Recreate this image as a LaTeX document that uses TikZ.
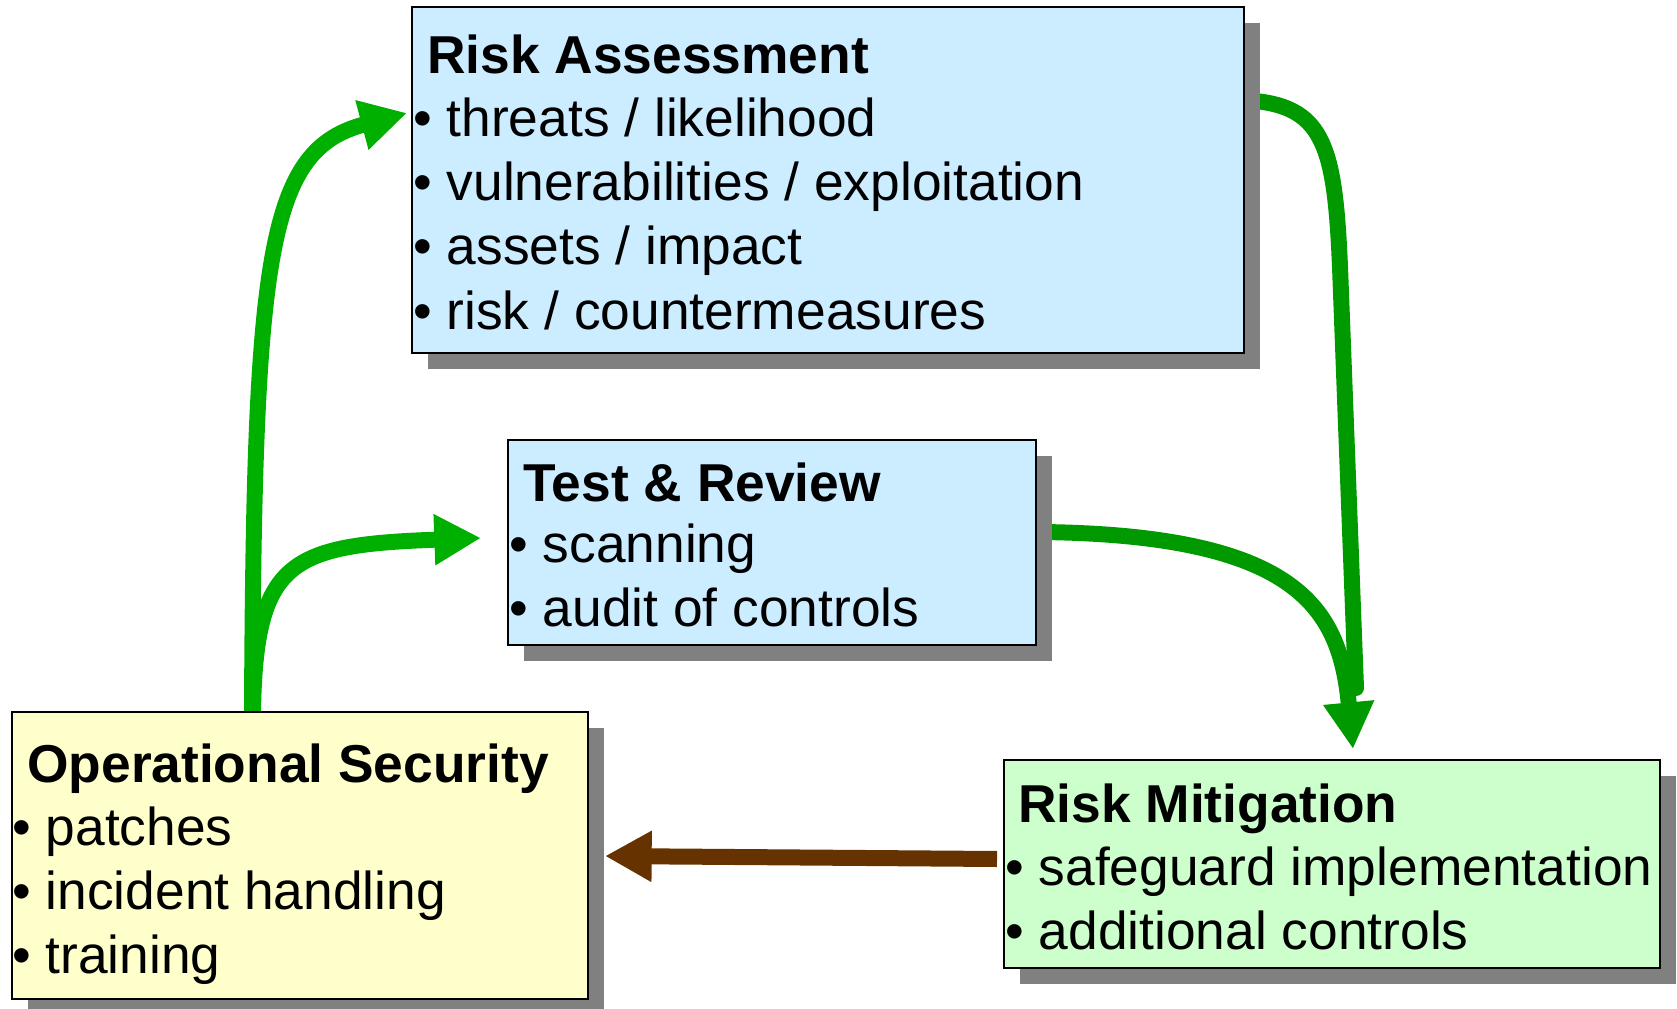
\documentclass[tikz,border=0pt]{standalone}
\usepackage{fontspec}
\setmainfont{Liberation Sans}
\usetikzlibrary{arrows.meta,shadows,calc,backgrounds}
\definecolor{rafill}{HTML}{CCECFF}
\definecolor{osfill}{HTML}{FFFFCC}
\definecolor{rmfill}{HTML}{CCFFCC}
\definecolor{shadowgray}{HTML}{808080}
\definecolor{lightgreen}{HTML}{00B000}
\definecolor{darkgreen}{HTML}{009900}
\definecolor{brownarrow}{HTML}{663300}
\begin{document}
\begin{tikzpicture}[x=0.75pt,y=-0.75pt,
  box/.style={draw=black,line width=1.5pt,inner sep=0pt,outer sep=0pt,anchor=north west,
     general shadow={fill=shadowgray,shadow xshift=12pt,shadow yshift=-12pt}},
  boxtitle/.style={anchor=base west,inner sep=0pt,font=\fontsize{40pt}{48pt}\selectfont\bfseries},
  boxitem/.style={anchor=base west,inner sep=0pt,font=\fontsize{40pt}{48pt}\selectfont},
  flow/.style={line width=12pt,-{Triangle[length=35pt,width=36pt]}},
]
\useasboundingbox (0,0) rectangle (1677,1009);

% boxes
\node[box,fill=rafill,minimum width=624pt,minimum height=259.5pt] (ra) at (412,7) {};
\node[box,fill=rafill,minimum width=396pt,minimum height=153.75pt] (tr) at (508,440) {};
\node[box,fill=osfill,minimum width=432pt,minimum height=215.25pt] (os) at (12,712) {};
\node[box,fill=rmfill,minimum width=492pt,minimum height=156pt] (rm) at (1004,760) {};

% texts
\node[boxtitle] (ra-t) at (427,74) {Risk Assessment};
\node[boxitem] (ra-1) at (413,137) {• threats / likelihood};
\node[boxitem] (ra-2) at (413,201) {• vulnerabilities / exploitation};
\node[boxitem] (ra-3) at (413,265) {• assets / impact};
\node[boxitem] (ra-4) at (413,329) {• risk / countermeasures};

\node[boxtitle] (tr-t) at (523,501) {Test \& Review};
\node[boxitem] (tr-1) at (509,562) {• scanning};
\node[boxitem] (tr-2) at (509,626) {• audit of controls};

\node[boxtitle] (os-t) at (27,782) {Operational Security};
\node[boxitem] (os-1) at (12,845) {• patches};
\node[boxitem] (os-2) at (12,909) {• incident handling};
\node[boxitem] (os-3) at (12,973) {• training};

\node[boxtitle] (rm-t) at (1018,822) {Risk Mitigation};
\node[boxitem] (rm-1) at (1005,885) {• safeguard implementation};
\node[boxitem] (rm-2) at (1005,949) {• additional controls};

\coordinate (ra-end) at (1356,688);

% connectors
\begin{scope}[on background layer]
\draw[flow,lightgreen] ($(os.north west)+(240,2)$)
   .. controls (254,250) and (268,150) .. ($(ra.north west)+(-5,106)$);
\draw[flow,lightgreen] ($(os.north west)+(241,2)$)
   .. controls (255,560) and (290,545) .. ($(tr.north west)+(-27,98)$);
\draw[line width=12pt,darkgreen,line cap=round] ($(ra.north east)+(11,94)$)
   .. controls (1325,108) and (1335,150) .. (1340,267) -- (ra-end);
\draw[flow,darkgreen] ($(tr.north east)+(5,92)$)
   .. controls (1300,535) and (1340,610) .. ($(rm.north west)+(349,-11)$);
\draw[flow,brownarrow] ($(rm.north west)+(-7,99)$) -- ($(os.north east)+(17,144)$);
\end{scope}
\end{tikzpicture}
\end{document}
